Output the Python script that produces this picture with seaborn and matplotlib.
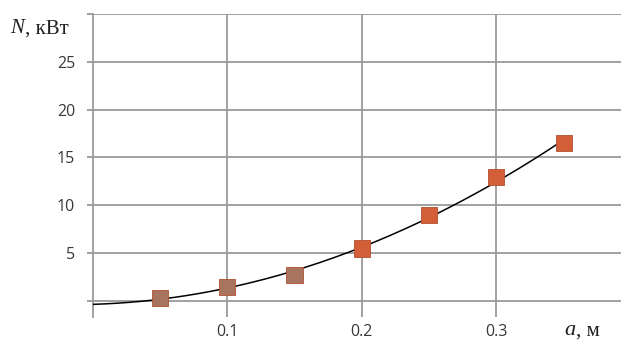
import numpy as np
import pandas as pd
import matplotlib
matplotlib.use("Agg")
import matplotlib.pyplot as plt
import seaborn as sns

# Measured power N (kW) against parameter a (m)
a_values = [0.05, 0.10, 0.15, 0.20, 0.25, 0.30, 0.35]
n_values = [0.28, 1.39, 2.70, 5.45, 8.95, 12.9, 16.46]
point_group = ["low", "low", "low", "high", "high", "high", "high"]

x_ticks = [0.1, 0.2, 0.3]
x_tick_labels = ["0.1", "0.2", "0.3"]
y_ticks = [0, 5, 10, 15, 20, 25, 30]
y_tick_labels = ["", "5", "10", "15", "20", "25", ""]

df = pd.DataFrame({"a": a_values, "N": n_values, "group": point_group})

sns.set_theme(style="white")
plt.rcParams["font.family"] = ["Open Sans", "DejaVu Sans"]

fig = plt.figure(figsize=(6.21, 3.40), dpi=100)
ax = fig.add_axes([0.149, 0.068, 0.851, 0.891])

ax.set_xlim(0, 0.3926)
ax.set_ylim(-1.7, 30)

# grid
for yv in y_ticks:
    ax.axhline(yv, color="#9a9a9a", lw=1.3, zorder=1)
for xv in x_ticks:
    ax.axvline(xv, color="#9a9a9a", lw=1.3, zorder=1)

# polynomial trend line through the measurements
coef = np.polyfit(df["a"], df["N"], 2)
xs = np.linspace(0, 0.35, 200)
trend = pd.DataFrame({"a": xs, "N": np.polyval(coef, xs)})
sns.lineplot(data=trend, x="a", y="N", ax=ax, color="black", lw=1.1, zorder=3)

# measured points
sns.scatterplot(data=df, x="a", y="N", hue="group",
                palette={"low": "#a8735f", "high": "#d35e38"},
                marker="s", s=135, edgecolor="#b05030", linewidth=0.6,
                legend=False, ax=ax, zorder=4)

ax.set_xticks(x_ticks)
ax.set_xticklabels(x_tick_labels)
ax.set_yticks(y_ticks)
ax.set_yticklabels(y_tick_labels)
ax.set_xlabel("")
ax.set_ylabel("")

for s in ["top", "right", "bottom"]:
    ax.spines[s].set_visible(False)
ax.spines["left"].set_color("#9a9a9a")
ax.spines["left"].set_linewidth(1.3)

ax.tick_params(axis="y", length=4.5, width=1.3, color="#9a9a9a", pad=8,
               labelsize=11.5, labelcolor="#383838", left=True)
ax.tick_params(axis="x", length=0, pad=5, labelsize=11.5, labelcolor="#383838")

serif = ["Liberation Serif", "DejaVu Serif"]
fig.text(0.016, 0.915, "N", fontsize=15, family=serif,
         style="italic", color="#202020", ha="left", va="center")
fig.text(0.041, 0.915, ", кВт", fontsize=15, family=serif,
         color="#202020", ha="left", va="center")
fig.text(0.908, 0.027, "a", fontsize=16, family=serif,
         style="italic", color="#202020", ha="left", va="center")
fig.text(0.928, 0.027, ", м", fontsize=15, family=serif,
         color="#202020", ha="left", va="center")

fig.savefig("out.png", dpi=100, facecolor="white")
